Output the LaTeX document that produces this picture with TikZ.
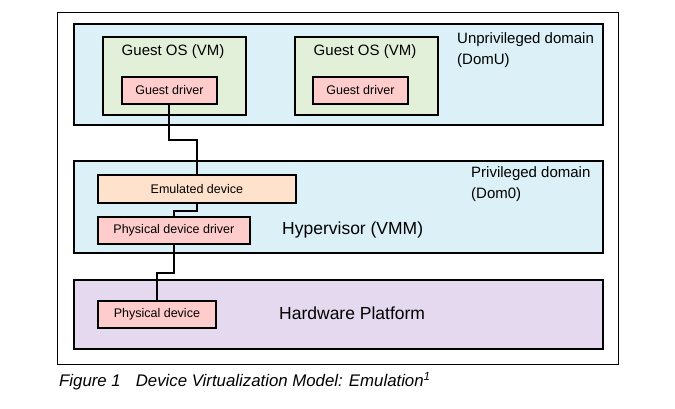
\documentclass[tikz,border=0pt]{standalone}
\usepackage{fontspec}
\setmainfont{Liberation Sans}
\usetikzlibrary{positioning}
\definecolor{domblue}{RGB}{219,241,247}
\definecolor{osgreen}{RGB}{227,240,217}
\definecolor{drvpink}{RGB}{255,204,204}
\definecolor{emupeach}{RGB}{255,226,204}
\definecolor{hwlilac}{RGB}{229,217,240}
\tikzset{
  box/.style={draw, line width=1.8pt, anchor=north west, inner sep=0pt},
  small/.style={font=\fontsize{12.5}{14}\selectfont},
  mid/.style={font=\fontsize{15}{18}\selectfont, align=left},
  big/.style={font=\fontsize{17.5}{20}\selectfont},
  wire/.style={line width=2pt}
}
\begin{document}
\begin{tikzpicture}[x=1pt,y=-1pt]
        \useasboundingbox (0,0) rectangle (675,408);
        \draw[line width=0.8pt] (57,12) rectangle (618,364);
        % unprivileged domain
        \node[box, fill=domblue, minimum width=529pt, minimum height=101pt] (domU) at (73,23) {};
        \node[mid, anchor=north west, inner sep=0pt] (domUtxt) at (457,32) {Unprivileged domain\\[3pt](DomU)};
        \node[box, fill=osgreen, minimum width=143pt, minimum height=78pt] (osA) at (102,36) {};
        \node[box, fill=osgreen, minimum width=143pt, minimum height=78pt] (osB) at (294,36) {};
        \node[mid] (osAtxt) at (173,52) {Guest OS (VM)};
        \node[mid] (osBtxt) at (365,52) {Guest OS (VM)};
        \node[box, small, fill=drvpink, minimum width=95pt, minimum height=27pt] (gdrvA) at (121,76) {Guest driver};
        \node[box, small, fill=drvpink, minimum width=95pt, minimum height=27pt] (gdrvB) at (312,76) {Guest driver};
        % privileged domain
        \node[box, fill=domblue, minimum width=529pt, minimum height=92pt] (dom0) at (73,160) {};
        \node[mid, anchor=north west, inner sep=0pt] (dom0txt) at (471,166) {Privileged domain\\[3pt](Dom0)};
        \node[box, small, fill=emupeach, minimum width=198pt, minimum height=28pt] (emu) at (97,174) {Emulated device};
        \node[box, small, fill=drvpink, minimum width=152pt, minimum height=27pt] (pdrv) at (97,216) {Physical device driver};
        \node[big, anchor=west, inner sep=0pt] (vmm) at (282,230) {Hypervisor (VMM)};
        % hardware
        \node[box, fill=hwlilac, minimum width=529pt, minimum height=69pt] (hw) at (73,279) {};
        \node[box, small, fill=drvpink, minimum width=118pt, minimum height=27pt] (pdev) at (97,300) {Physical device};
        \node[big, anchor=west, inner sep=0pt] (hwtxt) at (279,313) {Hardware Platform};
        % wires
        \draw[wire] (gdrvA.south) -- ++(0,35) -| (emu.north);
        \draw[wire] (emu.south) -- ++(0,7) -| (pdrv.north);
        \draw[wire] (pdrv.south) -- ++(0,28) -| (pdev.north);
        \node[anchor=west, inner sep=0pt, font=\itshape\fontsize{16.8}{19}\selectfont] (cap) at (59,381)
            {Figure 1\hspace{15pt}Device Virtualization Model: Emulation\textsuperscript{1}};
\end{tikzpicture}
\end{document}
